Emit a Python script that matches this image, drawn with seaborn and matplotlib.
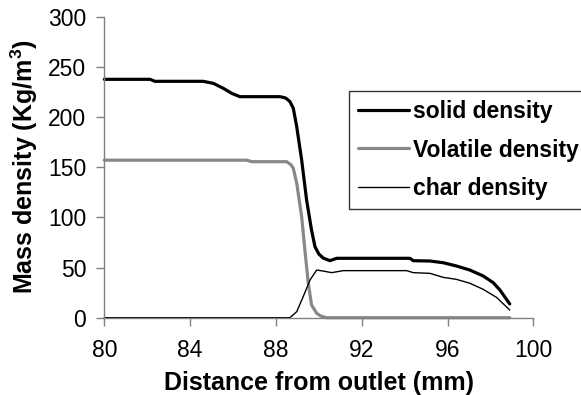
import numpy as np
import pandas as pd
import matplotlib
matplotlib.use("Agg")
import matplotlib.pyplot as plt
import seaborn as sns

# values
solid_x = [80, 82.13, 82.36, 84.61, 85.08, 85.55, 85.94, 86.32, 88.19, 88.45, 88.65, 88.81,
           88.97, 89.2, 89.43, 89.66, 89.82, 90.0, 90.2, 90.52, 90.83, 92, 94.25, 94.4,
           95.18, 95.8, 96.42, 97.04, 97.66, 98.13, 98.44, 98.9]
solid_y = [237.6, 237.6, 235.6, 235.6, 233.6, 228.6, 223.6, 220.3, 220.3, 219.0, 215.5, 208.7,
           190.4, 157.2, 117.3, 87.4, 70.8, 63.5, 59.5, 56.8, 59.2, 59.2, 59.2, 56.8,
           56.5, 54.8, 51.5, 47.5, 41.6, 34.9, 27.6, 13.7]

volatile_x = [80, 86.64, 86.87, 88.5, 88.7, 88.81, 88.97, 89.2, 89.35, 89.51, 89.66, 89.9,
              90.1, 90.36, 98.9]
volatile_y = [157, 157, 155.5, 155.5, 152.5, 148.9, 134, 100.7, 67.5, 34.3, 12.7, 4.4,
              1.5, 0, 0]

char_x = [80, 88.65, 88.97, 89.27, 89.59, 89.9, 90.2, 90.6, 91.14, 94.09, 94.4, 95.18,
          95.8, 96.42, 97.04, 97.66, 98.28, 98.9]
char_y = [0, 0, 6, 20.9, 37.6, 47.5, 46.5, 44.9, 46.9, 46.9, 44.9, 44.2,
          40.2, 38.2, 34.3, 28.3, 20.3, 7.7]

x_ticks = [80, 84, 88, 92, 96, 100]
y_ticks = [0, 50, 100, 150, 200, 250, 300]

sns.set_theme(style="white")
plt.rcParams['font.family'] = ['Liberation Sans', 'DejaVu Sans']
plt.rcParams['mathtext.fontset'] = 'custom'
plt.rcParams['mathtext.rm'] = 'Liberation Sans'
plt.rcParams['mathtext.bf'] = 'Liberation Sans:bold'
plt.rcParams['text.color'] = 'black'
plt.rcParams['axes.labelcolor'] = 'black'

fig, ax = plt.subplots(figsize=(5.81, 3.95), dpi=100)
fig.subplots_adjust(left=0.1795, right=0.918, bottom=0.1957, top=0.9577)

sns.lineplot(x=solid_x, y=solid_y, color="black", linewidth=2.3, label="solid density",
             sort=False, estimator=None, ax=ax, clip_on=False)
sns.lineplot(x=volatile_x, y=volatile_y, color="#888888", linewidth=2.3, label="Volatile density",
             sort=False, estimator=None, ax=ax, clip_on=False)
sns.lineplot(x=char_x, y=char_y, color="black", linewidth=1.0, label="char density",
             sort=False, estimator=None, ax=ax, clip_on=False)

ax.set_xlim(80, 100)
ax.set_ylim(0, 300)
ax.set_xticks(x_ticks)
ax.set_yticks(y_ticks)

for s in ["top", "right"]:
    ax.spines[s].set_visible(False)
for s in ["left", "bottom"]:
    ax.spines[s].set_color("#808080")
    ax.spines[s].set_linewidth(1.0)

ax.tick_params(axis="both", direction="out", length=6, width=1, color="#808080",
               labelcolor="black", labelsize=16.5, pad=7)
ax.tick_params(axis="x", pad=9)
ax.tick_params(left=True, bottom=True)

ax.set_xlabel("Distance from outlet (mm)", fontsize=18, fontweight="bold", labelpad=7)
ax.set_ylabel(r"Mass density (Kg/m$^{\mathbf{3}}$)", fontsize=18, fontweight="bold", labelpad=6)

leg = ax.legend(loc="upper left", bbox_to_anchor=(0.571, 0.754),
                prop={"weight": "bold", "size": 16.5}, frameon=True, fancybox=False,
                edgecolor="black", handlelength=2.2, handletextpad=0.2,
                borderpad=0.4, labelspacing=0.68, borderaxespad=0)
leg.get_frame().set_linewidth(1.0)
for t in leg.get_texts():
    t.set_color("black")

fig.savefig("out.png", dpi=100)
